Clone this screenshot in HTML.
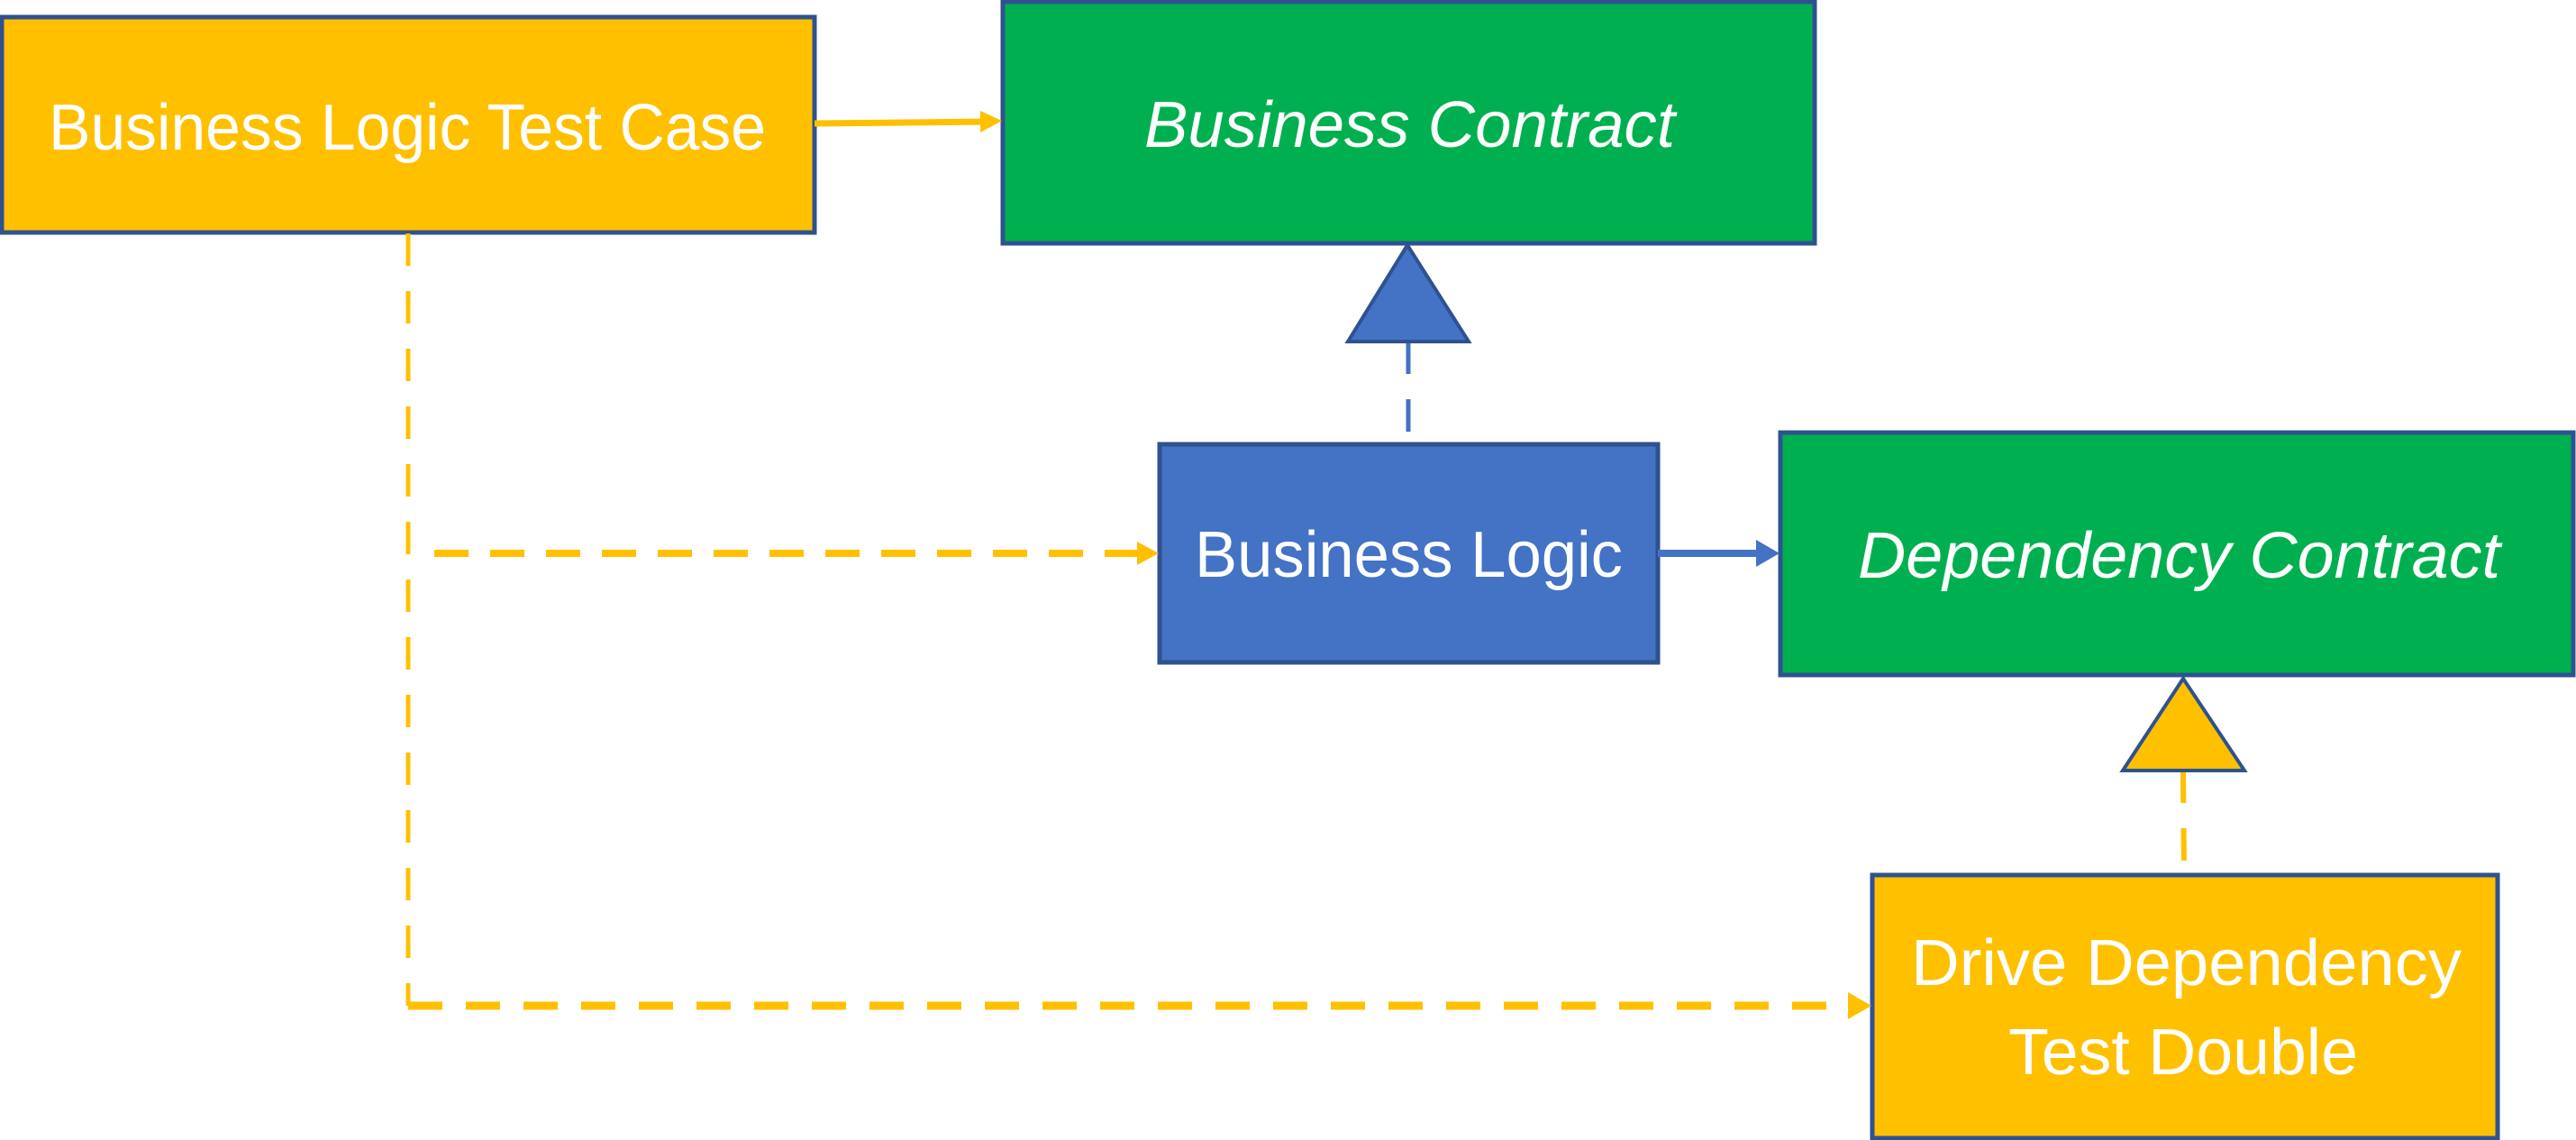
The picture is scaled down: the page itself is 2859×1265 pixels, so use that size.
<!DOCTYPE html>
<html><head><meta charset="utf-8"><style>html,body{margin:0;padding:0;background:#fff}svg{display:block}</style></head>
<body>
<svg width="2859" height="1265" viewBox="0 0 2859 1265" xmlns="http://www.w3.org/2000/svg">
<g stroke="#2F528F" stroke-width="5">
<rect x="2" y="19" width="902" height="239" fill="#FFC000"/>
<rect x="1113" y="2" width="901" height="268" fill="#00B050"/>
<rect x="1287" y="493" width="553" height="242" fill="#4472C4"/>
<rect x="1976" y="480" width="880" height="269" fill="#00B050"/>
<rect x="2078" y="971" width="694" height="292" fill="#FFC000"/>
</g>
<line x1="904" y1="137" x2="1095" y2="135" stroke="#FFC000" stroke-width="7"/>
<polygon points="1112,134 1088,123 1088,147" fill="#FFC000"/>
<line x1="453" y1="259" x2="453" y2="1116" stroke="#FFC000" stroke-width="5" stroke-dasharray="36 28"/>
<line x1="482" y1="614" x2="1268" y2="614" stroke="#FFC000" stroke-width="8" stroke-dasharray="38 24"/>
<polygon points="1286,614 1262,601 1262,627" fill="#FFC000"/>
<line x1="453" y1="1116" x2="2058" y2="1116" stroke="#FFC000" stroke-width="9" stroke-dasharray="38 26"/>
<polygon points="2077,1116 2051,1101 2051,1131" fill="#FFC000"/>
<line x1="1840" y1="614" x2="1955" y2="614" stroke="#4472C4" stroke-width="8"/>
<polygon points="1975,614 1949,599 1949,629" fill="#4472C4"/>
<line x1="1563" y1="379" x2="1563" y2="492" stroke="#4472C4" stroke-width="5" stroke-dasharray="36 28"/>
<line x1="2423" y1="855" x2="2424" y2="970" stroke="#FFC000" stroke-width="6" stroke-dasharray="36 28"/>
<polygon points="1562,272 1496,379 1630,379" fill="#4472C4" stroke="#2F528F" stroke-width="4"/>
<polygon points="2423,753 2356,855 2491,855" fill="#FFC000" stroke="#2F528F" stroke-width="4"/>
<g fill="#fff" font-family="Liberation Sans, sans-serif" font-size="72">
<text x="54" y="166" textLength="796" lengthAdjust="spacingAndGlyphs">Business Logic Test Case</text>
<text x="1270" y="163" textLength="589" lengthAdjust="spacingAndGlyphs" font-style="italic">Business Contract</text>
<text x="1326" y="640" textLength="475" lengthAdjust="spacingAndGlyphs">Business Logic</text>
<text x="2062" y="641" textLength="713" lengthAdjust="spacingAndGlyphs" font-style="italic">Dependency Contract</text>
<text x="2121" y="1093" textLength="611" lengthAdjust="spacingAndGlyphs">Drive Dependency</text>
<text x="2229" y="1192" textLength="388" lengthAdjust="spacingAndGlyphs">Test Double</text>
</g>
</svg>
</body></html>
